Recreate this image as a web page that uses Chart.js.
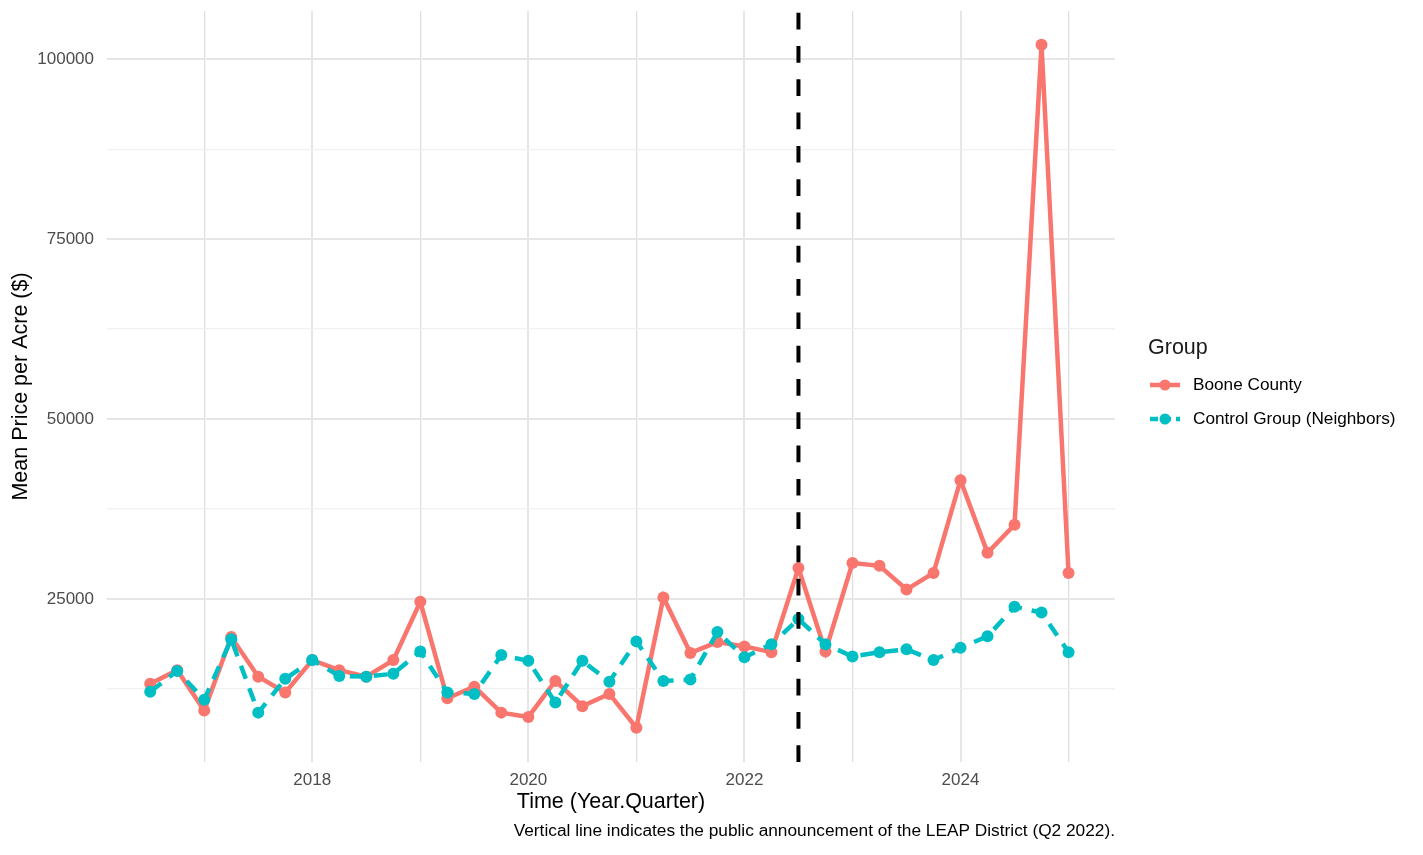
<!DOCTYPE html>
<html>
<head>
<meta charset="utf-8">
<title>Mean Price per Acre</title>
<script src="https://cdn.jsdelivr.net/npm/chart.js@4.4.1/dist/chart.umd.min.js"></script>
<style>
  html, body { margin: 0; padding: 0; background: #ffffff; }
  #wrap { width: 1423px; height: 855px; position: relative; }
</style>
</head>
<body>
<div id="wrap"><canvas id="priceChart" width="1423" height="855"></canvas></div>
<script>
// Quarters (decimal year)
const quarters = [
  2016.5, 2016.75, 2017, 2017.25, 2017.5, 2017.75,
  2018, 2018.25, 2018.5, 2018.75, 2019, 2019.25, 2019.5, 2019.75,
  2020, 2020.25, 2020.5, 2020.75, 2021, 2021.25, 2021.5, 2021.75,
  2022, 2022.25, 2022.5, 2022.75, 2023, 2023.25, 2023.5, 2023.75,
  2024, 2024.25, 2024.5, 2024.75, 2025
];

const booneCounty = [
  13200, 15100, 9500, 19700, 14200, 12000,
  16500, 15100, 14200, 16500, 24600, 11200, 12800, 9200,
  8600, 13600, 10100, 11800, 7100, 25200, 17500, 19000,
  18400, 17600, 29300, 17700, 30000, 29600, 26300, 28600,
  41500, 31400, 35300, 102000, 28600
];

const controlGroup = [
  12100, 15000, 11000, 19400, 9200, 13900,
  16500, 14300, 14200, 14600, 17700, 12000, 11800, 17200,
  16400, 10600, 16400, 13500, 19100, 13600, 13800, 20400,
  16900, 18700, 22200, 18700, 17000, 17600, 18000, 16500,
  18200, 19800, 23900, 23100, 17600
];

const seriesNames = ['Boone County', 'Control Group (Neighbors)'];
const xTicks = [2017, 2018, 2019, 2020, 2021, 2022, 2023, 2024, 2025];
const yTicks = [12500, 25000, 37500, 50000, 62500, 75000, 87500, 100000];
const announcement = 2022.5;

const RED = '#F8766D';
const TEAL = '#00BFC4';
const FONT = "'Liberation Sans', Arial, Helvetica, sans-serif";

const toPoints = vals => vals.map((v, i) => ({ x: quarters[i], y: v }));

// dashed vertical line, legend and caption
const extras = {
  id: 'extras',
  afterDatasetsDraw(chart) {
    const { ctx, chartArea, scales } = chart;
    const x = scales.x.getPixelForValue(announcement);
    ctx.save();
    ctx.strokeStyle = '#000000';
    ctx.lineWidth = 4;
    ctx.setLineDash([16.7, 16.6]);
    ctx.beginPath();
    ctx.moveTo(x, chartArea.bottom);
    ctx.lineTo(x, chartArea.top);
    ctx.stroke();
    ctx.restore();
  },
  afterDraw(chart) {
    const { ctx, chartArea } = chart;
    ctx.save();
    // caption
    ctx.fillStyle = '#000000';
    ctx.font = '17.3px ' + FONT;
    ctx.textAlign = 'right';
    ctx.textBaseline = 'middle';
    ctx.fillText('Vertical line indicates the public announcement of the LEAP District (Q2 2022).', chartArea.right, 831);

    // legend
    ctx.textAlign = 'left';
    ctx.font = '21.5px ' + FONT;
    ctx.fillStyle = '#1a1a1a';
    ctx.fillText('Group', 1148, 348);
    const items = [
      { label: seriesNames[0], color: RED, dash: [], y: 385 },
      { label: seriesNames[1], color: TEAL, dash: [8, 5], y: 419 }
    ];
    items.forEach(it => {
      ctx.strokeStyle = it.color;
      ctx.fillStyle = it.color;
      ctx.lineWidth = 4.5;
      ctx.setLineDash(it.dash);
      ctx.beginPath();
      ctx.moveTo(1150, it.y);
      ctx.lineTo(1180, it.y);
      ctx.stroke();
      ctx.setLineDash([]);
      ctx.beginPath();
      ctx.arc(1165, it.y, 5.5, 0, Math.PI * 2);
      ctx.fill();
      ctx.fillStyle = '#000000';
      ctx.font = '17.2px ' + FONT;
      ctx.fillText(it.label, 1193, it.y);
    });
    ctx.restore();
  }
};

const ctx = document.getElementById('priceChart').getContext('2d');

new Chart(ctx, {
  type: 'line',
  data: {
    datasets: [
      {
        label: seriesNames[0],
        data: toPoints(booneCounty),
        borderColor: RED,
        backgroundColor: RED,
        borderWidth: 4.5,
        pointRadius: 6,
        pointBorderWidth: 0,
        tension: 0,
        order: 2
      },
      {
        label: seriesNames[1],
        data: toPoints(controlGroup),
        borderColor: TEAL,
        backgroundColor: TEAL,
        borderWidth: 4.5,
        borderDash: [14, 10],
        pointRadius: 6,
        pointBorderWidth: 0,
        tension: 0,
        order: 1
      }
    ]
  },
  options: {
    responsive: false,
    animation: false,
    layout: { padding: { top: 11, right: 308, bottom: 36, left: 0 } },
    plugins: {
      legend: { display: false },
      tooltip: { enabled: false }
    },
    scales: {
      x: {
        type: 'linear',
        min: 2016.10,
        max: 2025.43,
        afterBuildTicks: s => { s.ticks = xTicks.map(v => ({ value: v })); },
        afterFit: s => { s.height = 57; s.paddingLeft = 0; s.paddingRight = 0; },
        border: { display: false },
        grid: {
          drawTicks: false,
          color: c => (c.tick && c.tick.value % 2 === 0) ? '#e6e6e6' : '#dcdcdc',
          lineWidth: c => (c.tick && c.tick.value % 2 === 0) ? 2 : 1.2
        },
        ticks: {
          autoSkip: false,
          maxRotation: 0,
          padding: 8,
          color: '#4d4d4d',
          font: { family: FONT, size: 17 },
          callback: v => (v % 2 === 0 ? String(v) : '')
        },
        title: {
          display: true,
          text: 'Time (Year.Quarter)',
          color: '#000000',
          font: { family: FONT, size: 21.5 },
          padding: { top: 0, bottom: 4 }
        }
      },
      y: {
        min: 2340,
        max: 106690,
        afterBuildTicks: s => { s.ticks = yTicks.map(v => ({ value: v })); },
        afterFit: s => { s.width = 107; s.paddingTop = 0; s.paddingBottom = 0; },
        border: { display: false },
        grid: {
          drawTicks: false,
          color: c => (c.tick && c.tick.value % 25000 === 0) ? '#e6e6e6' : '#f0f0f0',
          lineWidth: c => (c.tick && c.tick.value % 25000 === 0) ? 2 : 1.2
        },
        ticks: {
          autoSkip: false,
          padding: 13,
          color: '#4d4d4d',
          font: { family: FONT, size: 17 },
          callback: v => (v % 25000 === 0 ? String(v) : '')
        },
        title: {
          display: true,
          text: 'Mean Price per Acre ($)',
          color: '#000000',
          font: { family: FONT, size: 21.5 },
          padding: { top: 8, bottom: 4 }
        }
      }
    }
  },
  plugins: [extras]
});
</script>
</body>
</html>
